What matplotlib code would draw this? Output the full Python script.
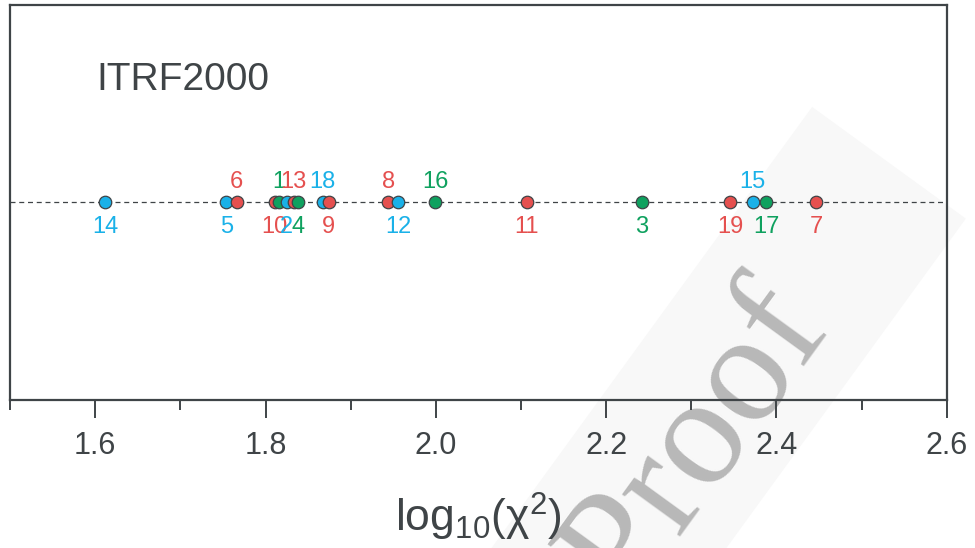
import matplotlib
matplotlib.use("Agg")
import matplotlib.pyplot as plt
from matplotlib.ticker import MultipleLocator
from matplotlib.patches import Polygon
import numpy as np

plt.rcParams['font.family'] = ['Liberation Sans', 'DejaVu Sans']
plt.rcParams['mathtext.fontset'] = 'custom'
plt.rcParams['mathtext.rm'] = 'Liberation Sans'
plt.rcParams['mathtext.it'] = 'Liberation Sans'

ids = ['14', '5', '6', '10', '1', '2', '13', '4', '18', '9', '8', '12', '16', '11', '3', '19', '15', '17', '7']
logchi2 = [1.612, 1.754, 1.766, 1.811, 1.816, 1.825, 1.833, 1.838, 1.867, 1.874,
           1.944, 1.956, 1.999, 2.107, 2.242, 2.346, 2.372, 2.388, 2.447]
groups = ['b', 'b', 'r', 'r', 'g', 'b', 'r', 'g', 'b', 'r', 'r', 'b', 'g', 'r', 'g', 'r', 'b', 'g', 'r']
label_pos = ['below', 'below', 'above', 'below', 'above', 'below', 'above', 'below', 'above', 'below',
             'above', 'below', 'above', 'below', 'below', 'below', 'above', 'below', 'below']

colors = {'r': '#e5504f', 'b': '#1ab1e8', 'g': '#0fa15f'}
dark = '#3f4447'

W, H = 975, 548
fig = plt.figure(figsize=(9.75, 5.48), dpi=100)
ax = fig.add_axes([0.0103, 0.270, 0.9607, 0.721])
ax.set_xlim(1.5, 2.6)
ax.set_ylim(0, 1)

# watermark band + text (pixel geometry, y down)
u = np.array([0.588, -0.809])
n = np.array([0.809, 0.588])
c = np.array([742.0, 365.0])
pts = [c - 330 * u - 95 * n, c + 250 * u - 95 * n, c + 250 * u + 95 * n, c - 330 * u + 95 * n]
pts = [(p[0] / W, 1 - p[1] / H) for p in pts]
fig.patches.append(Polygon(pts, closed=True, transform=fig.transFigure,
                           facecolor='#f8f8f8', edgecolor='none', zorder=-2))
fig.text(698 / W, 1 - 443 / H, 'Proof', family='Liberation Serif', fontsize=112,
         color='#b8b8b8', rotation=54, ha='center', va='center',
         rotation_mode='anchor', zorder=-1)

ax.axhline(0.5, color=dark, lw=0.9, ls=(0, (4, 3)), zorder=1)
for x, g, lab, pos in zip(logchi2, groups, ids, label_pos):
    ax.plot(x, 0.5, 'o', ms=9, mfc=colors[g], mec=dark, mew=0.9, zorder=3)
    dy = 0.053 if pos == 'above' else -0.061
    ax.text(x, 0.5 + dy, lab, color=colors[g], fontsize=17,
            ha='center', va='center', zorder=4)

ax.text(0.092, 0.81, 'ITRF2000', transform=ax.transAxes, fontsize=28,
        color=dark, ha='left', va='center')

for s in ax.spines.values():
    s.set_color(dark)
    s.set_linewidth(1.6)
ax.patch.set_alpha(0)

ax.set_yticks([])
ax.xaxis.set_major_locator(MultipleLocator(0.2))
ax.xaxis.set_minor_locator(MultipleLocator(0.1))
ax.tick_params(axis='x', which='major', direction='out', length=13, width=1.4,
               color=dark, labelsize=22, labelcolor=dark, pad=9)
ax.tick_params(axis='x', which='minor', direction='out', length=7, width=1.4, color=dark)
ax.set_xticks([1.6, 1.8, 2.0, 2.2, 2.4, 2.6])
ax.set_xticklabels(['1.6', '1.8', '2.0', '2.2', '2.4', '2.6'])
ax.set_xlabel('log$_{10}$(χ$^2$)', fontsize=32, color=dark, labelpad=22)

fig.savefig('out.png', dpi=100)
